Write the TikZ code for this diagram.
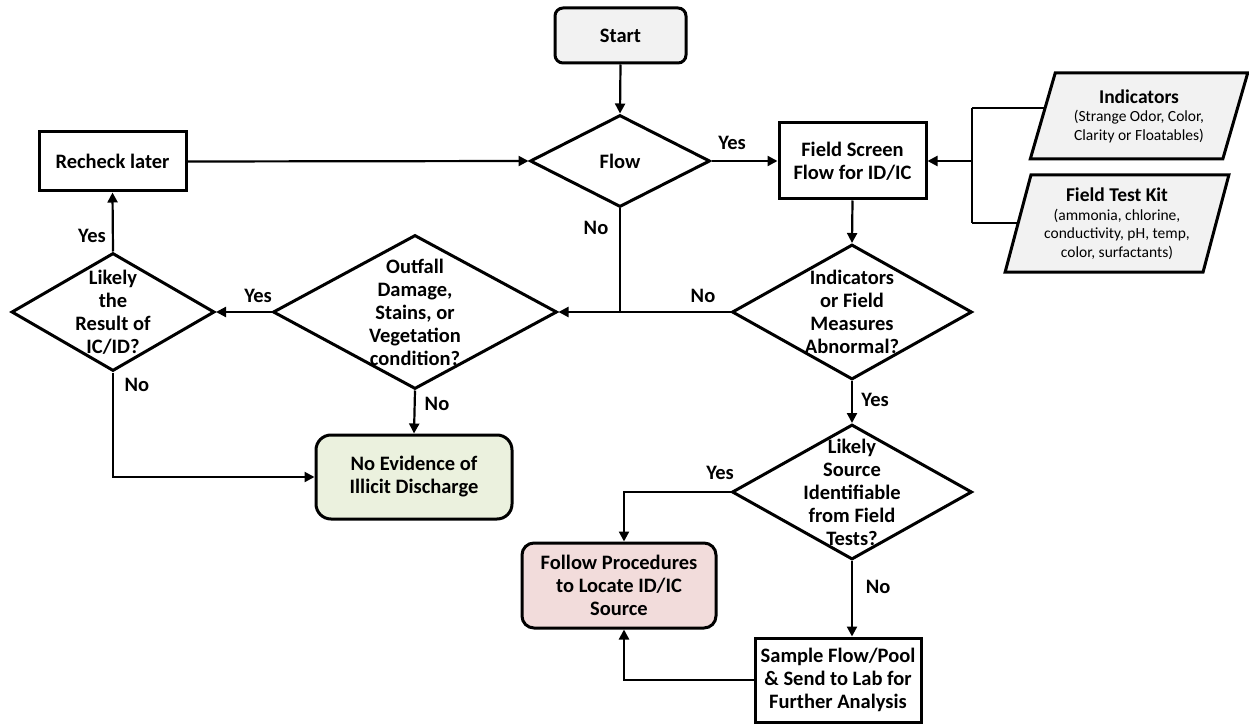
\documentclass[tikz,border=0pt]{standalone}
\usepackage{fontspec}
\setmainfont{Carlito}
\usetikzlibrary{shapes.geometric,arrows.meta,backgrounds}
\definecolor{startgray}{HTML}{F2F2F2}
\definecolor{evgreen}{HTML}{EBF1DE}
\definecolor{fpink}{HTML}{F2DCDB}
\begin{document}
\begin{tikzpicture}[x=1pt,y=-1pt,
  bigfont/.style={font=\bfseries\fontsize{20.5}{23}\selectfont},
  box/.style={draw, line width=3pt, align=center, bigfont, inner sep=0pt},
  dia/.style={draw, diamond, line width=3pt, inner sep=0pt, fill=white},
  diatext/.style={align=center, bigfont, inner sep=0pt},
  para/.style={draw, trapezium, trapezium stretches=true, line width=3pt, fill=startgray,
    align=center, inner sep=0pt, font=\fontsize{15.5}{18.5}\selectfont},
  conn/.style={line width=2.2pt, -{Triangle[length=10pt,width=10pt]}},
  line/.style={line width=2.2pt},
  lbl/.style={bigfont, inner sep=0pt}]
\useasboundingbox (0,0) rectangle (1249,727);

% nodes
\node[box, rounded corners=8pt, fill=startgray, minimum width=131, minimum height=55] (start) at (620.5,35.5) {Start};
\node[dia, minimum width=180, minimum height=92] (flow) at (620,161) {};
\node[diatext] (flowt) at (flow.center) {Flow};
\node[box, minimum width=147, minimum height=59] (recheck) at (112.5,161.5) {Recheck later};
\node[box, minimum width=147, minimum height=76] (screen) at (852.5,161) {Field Screen\\Flow for ID/IC};
\node[para, trapezium left angle=70, trapezium right angle=110, minimum width=218, minimum height=86] (ind) at (1139,116)
  {{\bfseries\fontsize{19.5}{22}\selectfont Indicators}\\(Strange Odor, Color,\\Clarity or Floatables)};
\node[para, trapezium left angle=73, trapezium right angle=107, minimum width=224, minimum height=97] (kit) at (1117,223.5)
  {{\bfseries\fontsize{19.5}{22}\selectfont Field Test Kit}\\(ammonia, chlorine,\\conductivity, pH, temp,\\color, surfactants)};
\node[dia, minimum width=240, minimum height=135] (abn) at (852,312) {};
\node[diatext] (abnt) at (abn.center) {Indicators\\or Field\\Measures\\Abnormal?};
\node[dia, minimum width=284, minimum height=154] (outf) at (415,312) {};
\node[diatext] (outft) at (outf.center) {Outfall\\Damage,\\Stains, or\\Vegetation\\condition?};
\node[dia, minimum width=203, minimum height=118] (res) at (113,312) {};
\node[diatext] (rest) at (res.center) {Likely\\the\\Result of\\IC/ID?};
\node[box, rounded corners=15pt, fill=evgreen, minimum width=196, minimum height=84] (noev) at (414,477) {No Evidence of\\Illicit Discharge};
\node[dia, minimum width=240, minimum height=135] (src) at (852,492) {};
\node[diatext] (srct) at (src.center) {Likely\\Source\\Identifiable\\from Field\\Tests?};
\node[box, rounded corners=12pt, fill=fpink, minimum width=194, minimum height=85] (follow) at (619,585.5) {Follow Procedures\\to Locate ID/IC\\Source};
\node[box, minimum width=166, minimum height=84] (sample) at (838,680) {Sample Flow/Pool\\\& Send to Lab for\\Further Analysis};

% junction coordinates
\coordinate (jx) at (972,161);
\coordinate (ja) at (972,108);
\coordinate (jb) at (972,223);

% connectors
\draw[conn] (start.south) -- (flow.north);
\draw[conn] (recheck.east) -- (flow.west);
\draw[conn] (flow.east) -- (screen.west);
\draw[conn] (screen.south) -- (abn.north);
\begin{scope}[on background layer]
  \draw[line] (ja) -- (ind.center |- ja);
  \draw[line] (jb) -- (kit.center |- jb);
\end{scope}
\draw[line] (ja) -- (jb);
\draw[conn] (jx) -- (screen.east);
\draw[line] (flow.south) -- (flow.south |- abn.west);
\draw[conn] (abn.west) -- (outf.east);
\draw[conn] (outf.west) -- (res.east);
\draw[conn] (res.north) -- (recheck.south);
\draw[conn] (res.south) |- (noev.west);
\draw[conn] (outf.south) -- (noev.north);
\draw[conn] (abn.south) -- (src.north);
\draw[conn] (src.west) -| ([xshift=5pt]follow.north);
\draw[conn] (src.south) -- (src.south |- sample.north);
\draw[conn] (sample.west) -| ([xshift=5pt]follow.south);

% labels
\node[lbl] (l1) at (732,143) {Yes};
\node[lbl] (l2) at (596,228) {No};
\node[lbl] (l3) at (703,296) {No};
\node[lbl] (l4) at (258,296) {Yes};
\node[lbl] (l5) at (92,236) {Yes};
\node[lbl] (l6) at (137,385) {No};
\node[lbl] (l7) at (437,404) {No};
\node[lbl] (l8) at (875,400) {Yes};
\node[lbl] (l9) at (720,473) {Yes};
\node[lbl] (l10) at (878,587) {No};
\end{tikzpicture}
\end{document}
